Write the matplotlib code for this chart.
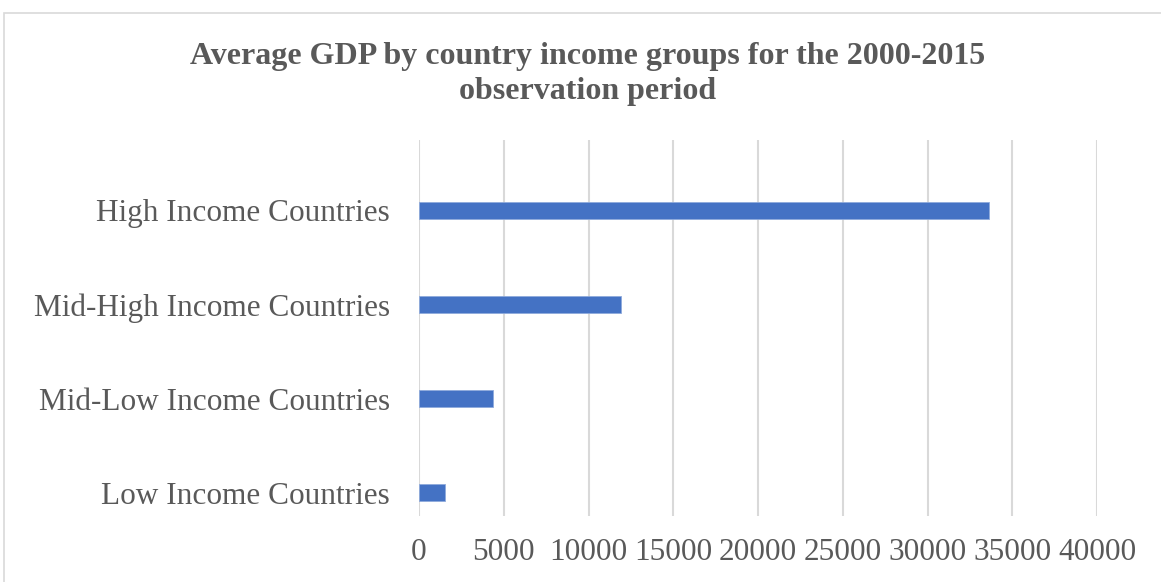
import matplotlib.pyplot as plt
from matplotlib.patches import Rectangle

# values (average GDP, 2000-2015)
groups = ["Low Income Countries", "Mid-Low Income Countries",
          "Mid-High Income Countries", "High Income Countries"]
avg_gdp = [1530, 4350, 11900, 33600]
x_ticks = [0, 5000, 10000, 15000, 20000, 25000, 30000, 35000, 40000]

TEXT = "#595959"
BAR = "#4472C4"
GRID = "#d9d9d9"

plt.rcParams["font.family"] = ["Liberation Serif", "DejaVu Serif"]

fig = plt.figure(figsize=(11.61, 5.82), dpi=100)
ax = fig.add_axes([419 / 1161, 1 - 516 / 582, (1097 - 419) / 1161, 376 / 582])

# chart frame, cut off at right and bottom like the source image
fig.patches.append(Rectangle((4 / 1161, -0.1), 1.2, 1 - 13 / 582 + 0.1,
                             transform=fig.transFigure, fill=False,
                             edgecolor=GRID, linewidth=1.2))

pos = list(range(len(groups)))
ax.barh(pos, avg_gdp, height=0.18, color=BAR, edgecolor="#8faadc",
        linewidth=0.6, zorder=3)

ax.set_xlim(0, 40000)
ax.set_ylim(-0.25, 3.75)
ax.set_xticks(x_ticks)
ax.set_xticklabels([str(t) for t in x_ticks])
ax.set_yticks(pos)
ax.set_yticklabels(groups)
ax.tick_params(axis="both", length=0, labelsize=22.5, labelcolor=TEXT)
ax.tick_params(axis="y", pad=21)
ax.tick_params(axis="x", pad=16)
ax.grid(axis="x", color=GRID, linewidth=1.5, zorder=0)
for s in ax.spines.values():
    s.set_visible(False)

fig.text(0.5 + 7 / 1161, 1 - 74 / 582,
         "Average GDP by country income groups for the 2000-2015\nobservation period",
         ha="center", va="center", fontsize=23, fontweight="bold",
         color=TEXT, linespacing=1.25)

plt.savefig("out.png", dpi=100)
